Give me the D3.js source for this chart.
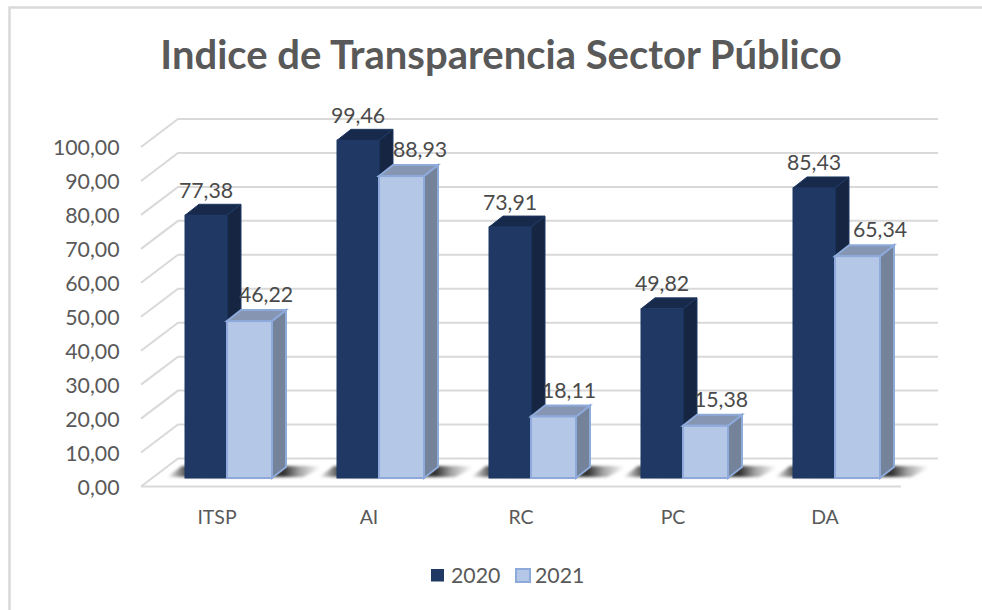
<!DOCTYPE html>
<html><head><meta charset="utf-8">
<script src="https://cdn.jsdelivr.net/npm/d3@7"></script>
<style>html,body{margin:0;padding:0;background:#fff}svg{display:block}text{font-family:Lato,sans-serif}</style>
</head><body><svg id="c" width="982" height="610"></svg>
<script>
const categories=["ITSP","AI","RC","PC","DA"];
const years=["2020","2021"];
const values2020=[77.38,99.46,73.91,49.82,85.43];
const values2021=[46.22,88.93,18.11,15.38,65.34];
const yTicks=[0,10,20,30,40,50,60,70,80,90,100];
const titleText="Indice de Transparencia Sector Público";
const fmt=v=>d3.format(".2f")(v).replace(".",",");

const svg=d3.select("#c");
const frontX=d3.scaleBand().domain(categories).range([141,901]);
const yFront=d3.scaleLinear().domain([0,100]).range([486.5,147]);
const yBar=d3.scaleLinear().domain([0,100]).range([478,138.5]);
const depthWall={dx:37,dy:-28};
const depthBar={dx:14,dy:-11};
const groupOffset=frontX.bandwidth()/2-32;
const barW={"2020":42,"2021":45};
const barStart={"2020":0,"2021":42};
const lightLabelNudge=[-2,0,-3,-3,4];

// frame
svg.append("path").attr("d","M9.5,610V7.5H982").attr("fill","none").attr("stroke","#d9d9d9").attr("stroke-width",2.5);

// title
svg.append("text").attr("x",501).attr("y",69).attr("text-anchor","middle")
  .attr("font-size",40).attr("font-weight",700).attr("fill","#595959").text(titleText);

// grid
const grid=svg.append("g").attr("fill","none").attr("stroke","#d9d9d9").attr("stroke-width",2);
yTicks.forEach(t=>{
  const y=yFront(t), xl=frontX.range()[0];
  grid.append("path").attr("d",`M${xl},${y}L${xl+depthWall.dx},${y+depthWall.dy}H${frontX.range()[1]+depthWall.dx}`);
});
grid.append("path").attr("d",`M${frontX.range()[0]},${yFront(0)}H${frontX.range()[1]}`);

// axis labels
svg.append("g").selectAll("text").data(yTicks).join("text")
  .attr("x",119.5).attr("y",d=>yFront(d)+8).attr("text-anchor","end")
  .attr("font-size",21.3).attr("fill","#595959").text(fmt);
svg.append("g").selectAll("text").data(categories).join("text")
  .attr("x",d=>frontX(d)+frontX.bandwidth()/2).attr("y",524).attr("text-anchor","middle")
  .attr("font-size",19.5).attr("fill","#595959").text(d=>d);

// shadows
const defs=svg.append("defs");
defs.append("filter").attr("id","blur").attr("x","-10%").attr("y","-40%").attr("width","120%").attr("height","180%")
  .append("feGaussianBlur").attr("stdDeviation",1.6);
const gr=defs.append("linearGradient").attr("id","sh").attr("x1",0).attr("x2",1).attr("y1",0).attr("y2",0);
[[0,0],[0.114,0.65],[0.74,0.8],[0.84,0.35],[0.97,0]].forEach(s=>
  gr.append("stop").attr("offset",s[0]).attr("stop-color","#000").attr("stop-opacity",s[1]));
categories.forEach(c=>{
  const x0=frontX(c)+groupOffset, y=yBar(0);
  svg.append("path").attr("d",`M${x0-18},${y-1}L${x0-3},${y-12}H${x0+140}L${x0+118},${y-1}Z`)
    .attr("fill","url(#sh)").attr("filter","url(#blur)");
});

// bars
const series=[
 {name:years[0],vals:values2020,front:"#1f3864",side:"#152542",top:"#172a4c",stroke:"#1f3864",sw:1},
 {name:years[1],vals:values2021,front:"#b4c7e7",side:"#74829a",top:"#8696b2",stroke:"#8eaadb",sw:2}];
series.forEach(s=>{
  categories.forEach((c,i)=>{
    const g=svg.append("g");
    const xx=frontX(c)+groupOffset+barStart[s.name], ww=barW[s.name];
    const y=yBar(s.vals[i]), b=yBar(0);
    g.append("path").attr("d",`M${xx+ww},${y}l${depthBar.dx},${depthBar.dy}V${b+depthBar.dy}l${-depthBar.dx},${-depthBar.dy}Z`)
      .attr("fill",s.side).attr("stroke",s.stroke).attr("stroke-width",s.sw);
    g.append("path").attr("d",`M${xx},${y}l${depthBar.dx},${depthBar.dy}H${xx+ww+depthBar.dx}l${-depthBar.dx},${-depthBar.dy}Z`)
      .attr("fill",s.top).attr("stroke",s.stroke).attr("stroke-width",s.sw);
    g.append("rect").attr("x",xx).attr("y",y).attr("width",ww).attr("height",b-y)
      .attr("fill",s.front).attr("stroke",s.stroke).attr("stroke-width",s.sw);
  });
});

// value labels (drawn after all bars)
series.forEach((s,k)=>{
  categories.forEach((c,i)=>{
    const x=frontX(c)+groupOffset+barStart[s.name];
    svg.append("text").attr("x",x+(k?41+lightLabelNudge[i]:21)).attr("y",yBar(s.vals[i])-(k?19:17.5))
      .attr("text-anchor","middle").attr("font-size",21.3).attr("fill","#4a4a4a").text(fmt(s.vals[i]));
  });
});

// legend
const lg=svg.append("g");
lg.append("rect").attr("x",431).attr("y",569).attr("width",13).attr("height",12.5).attr("fill","#1f3864");
lg.append("rect").attr("x",516).attr("y",569).attr("width",14).attr("height",13).attr("fill","#b4c7e7").attr("stroke","#8eaadb").attr("stroke-width",2);
lg.append("text").attr("x",451).attr("y",583).attr("font-size",21.3).attr("fill","#595959").text(years[0]);
lg.append("text").attr("x",535).attr("y",583).attr("font-size",21.3).attr("fill","#595959").text(years[1]);
</script></body></html>
